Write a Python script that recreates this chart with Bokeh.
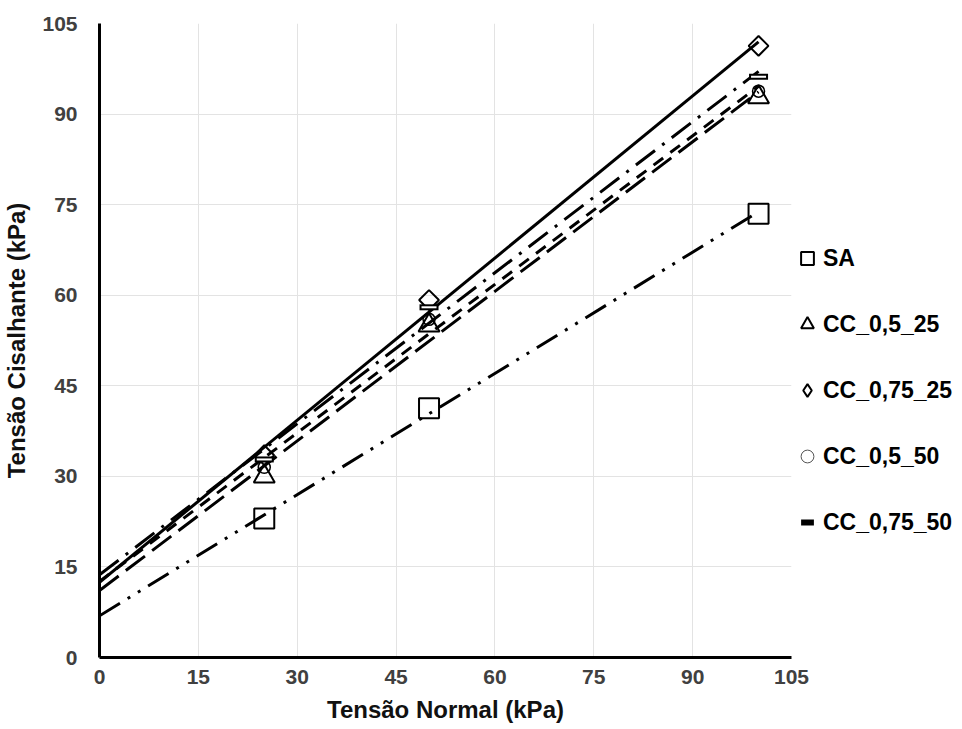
import numpy as np
from bokeh.plotting import figure
from bokeh.models import Range1d, FixedTicker, Legend, LegendItem
from bokeh.embed import file_html
from bokeh.resources import INLINE

# Direct shear results: shear stress (kPa) at each normal stress (kPa)
normal_stress = [25, 50, 100]
sa = [23.0, 41.3, 73.5]
cc_05_25 = [30.0, 55.0, 92.8]
cc_075_25 = [33.5, 59.2, 101.3]
cc_05_50 = [31.5, 56.0, 93.8]
cc_075_50 = [32.8, 58.0, 96.2]

series_labels = ["SA", "CC_0,5_25", "CC_0,75_25", "CC_0,5_50", "CC_0,75_50"]
axis_ticks = [0, 15, 30, 45, 60, 75, 90, 105]
trend_x = [0, 100]

FONT = "Liberation Sans"

p = figure(
    frame_width=692, frame_height=634,
    x_range=Range1d(0, 105), y_range=Range1d(0, 105),
    output_backend="svg", toolbar_location=None,
    min_border_left=98, min_border_right=0,
    min_border_top=23, min_border_bottom=70,
)
p.outline_line_color = None
p.background_fill_color = "white"
p.border_fill_color = "white"

for ax in (p.xaxis[0], p.yaxis[0]):
    ax.ticker = FixedTicker(ticks=axis_ticks)
    ax.axis_line_color = "black"
    ax.axis_line_width = 3
    ax.major_tick_line_color = None
    ax.minor_tick_line_color = None
    ax.major_label_text_font = FONT
    ax.major_label_text_font_style = "bold"
    ax.major_label_text_font_size = "21px"
    ax.major_label_text_color = "#404040"
    ax.axis_label_text_font = FONT
    ax.axis_label_text_font_style = "bold"
    ax.axis_label_text_font_size = "24px"
    ax.axis_label_text_color = "#111111"

p.xaxis.axis_label = "Tensão Normal (kPa)"
p.yaxis.axis_label = "Tensão Cisalhante (kPa)"
p.xaxis.major_label_standoff = 6
p.xaxis.axis_label_standoff = 9
p.yaxis.major_label_standoff = 16
p.yaxis.axis_label_standoff = 9

p.grid.ticker = FixedTicker(ticks=axis_ticks)
p.grid.grid_line_color = "#e3e3e3"
p.grid.grid_line_width = 1


def trend(ys):
    slope, intercept = np.polyfit(normal_stress, ys, 1)
    return [slope * x + intercept for x in trend_x]


LW = 3
p.line(trend_x, trend(sa), line_color="black", line_width=LW, line_dash="24 9 3 9 3 9")
p.line(trend_x, trend(cc_05_25), line_color="black", line_width=LW, line_dash="24 9")
p.line(trend_x, trend(cc_075_25), line_color="black", line_width=LW)
p.line(trend_x, trend(cc_05_50), line_color="black", line_width=LW, line_dash="12 9")
p.line(trend_x, trend(cc_075_50), line_color="black", line_width=LW, line_dash="24 9 3 9")

r_sa = p.scatter(normal_stress, sa, marker="square", size=20,
                 line_color="black", line_width=2, fill_color=None)
r_t = p.scatter(normal_stress, cc_05_25, marker="triangle", size=21,
                line_color="black", line_width=2, fill_color=None)
p.scatter(normal_stress, cc_075_25, marker="square", angle=np.pi / 4, size=14,
          line_color="black", line_width=2, fill_color=None)
p.scatter(normal_stress, cc_05_50, marker="circle", size=12,
          line_color="black", line_width=1.5, fill_color=None)
r_m = p.scatter(normal_stress, cc_075_50, marker="dash", size=19,
                line_color="black", line_width=6)
p.scatter(normal_stress, cc_075_50, marker="dash", size=15,
          line_color="white", line_width=2)

# key swatches for the diamond and circle series, mapped onto a range
# that keeps them out of the plotting area so only the legend shows them
p.extra_x_ranges = {"key": Range1d(1000, 1001)}
r_d_key = p.scatter(normal_stress, cc_075_25, x_range_name="key", marker="diamond",
                    size=18, line_color="black", line_width=2, fill_color=None)
r_c_key = p.scatter(normal_stress, cc_05_50, x_range_name="key", marker="circle",
                    size=12, line_color="#555555", line_width=1, fill_color=None)

legend = Legend(
    items=[LegendItem(label=lab, renderers=[r]) for lab, r in
           zip(series_labels, [r_sa, r_t, r_d_key, r_c_key, r_m])],
    location="center_left",
    orientation="vertical",
    glyph_width=32, glyph_height=38,
    spacing=28, padding=3, margin=0,
    label_standoff=0,
    label_text_font=FONT, label_text_font_style="bold",
    label_text_font_size="23px", label_text_color="black",
    title=" ", title_text_font_size="21px", title_standoff=76,
    border_line_color=None, background_fill_alpha=0,
)
p.add_layout(legend, "right")

open("out.html", "w").write(file_html(p, INLINE))
